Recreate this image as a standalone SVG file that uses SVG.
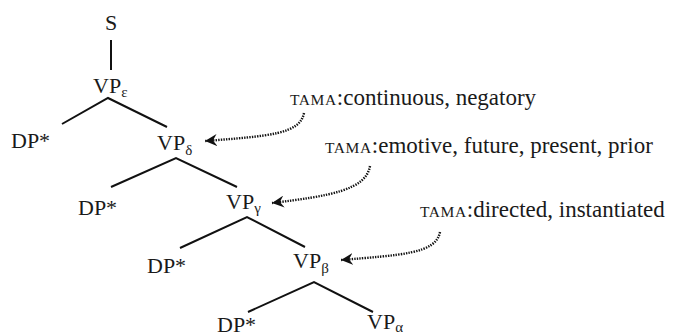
<svg xmlns="http://www.w3.org/2000/svg" width="679" height="336" viewBox="0 0 679 336" font-family="'Liberation Serif', 'Times New Roman', serif">
<style>
text{font-family:'Liberation Serif','Times New Roman',serif;fill:#1a1a1a}
.n{font-size:22px}
.sub{font-size:15px}
.t{font-size:23px}
.sc{font-size:15.5px;letter-spacing:0.6px}
.edge{stroke:#111;stroke-width:2;fill:none}
.dot{stroke:#111;stroke-width:2.4;fill:none;stroke-dasharray:1.4 1.2}
</style>
<defs>
<marker id="ah" markerUnits="userSpaceOnUse" markerWidth="14" markerHeight="12" refX="12" refY="6" orient="auto">
<path d="M0,0 L12,6 L0,12 L4,6 z" fill="#111"/>
</marker>
</defs>
<g id="S"><text class="n" font-family="Liberation Serif, serif" x="111" y="30" text-anchor="middle">S</text></g>
<g id="VPe"><text class="n" font-family="Liberation Serif, serif" x="93" y="93">VP<tspan class="sub" dy="4">ε</tspan></text></g>
<g id="DP1"><text class="n" font-family="Liberation Serif, serif" x="11" y="148">DP*</text></g>
<g id="VPd"><text class="n" font-family="Liberation Serif, serif" x="157" y="150">VP<tspan class="sub" dy="5">δ</tspan></text></g>
<g id="DP2"><text class="n" font-family="Liberation Serif, serif" x="78" y="215">DP*</text></g>
<g id="VPg"><text class="n" font-family="Liberation Serif, serif" x="226" y="209">VP<tspan class="sub" dy="4">γ</tspan></text></g>
<g id="DP3"><text class="n" font-family="Liberation Serif, serif" x="147" y="273">DP*</text></g>
<g id="VPb"><text class="n" font-family="Liberation Serif, serif" x="293" y="268">VP<tspan class="sub" dy="5">β</tspan></text></g>
<g id="DP4"><text class="n" font-family="Liberation Serif, serif" x="217" y="332">DP*</text></g>
<g id="VPa"><text class="n" font-family="Liberation Serif, serif" x="367" y="329">VP<tspan class="sub" dy="3">α</tspan></text></g>
<g id="L1"><text class="t" font-family="Liberation Serif, serif" x="290" y="105"><tspan class="sc">TAMA</tspan>:continuous, negatory</text></g>
<g id="L2"><text class="t" font-family="Liberation Serif, serif" x="325" y="153"><tspan class="sc">TAMA</tspan>:emotive, future, present, prior</text></g>
<g id="L3"><text class="t" font-family="Liberation Serif, serif" x="420" y="217"><tspan class="sc">TAMA</tspan>:directed, instantiated</text></g>
<g id="connectors">
<path class="edge" d="M111,40 V70"/>
<path class="edge" d="M62,124 L108,98 L167,127"/>
<path class="edge" d="M111,187 L176,158 L237,187"/>
<path class="edge" d="M180,248 L247,217 L305,247"/>
<path class="edge" d="M248,312 L314,282 L373,312"/>
<path class="dot" marker-end="url(#ah)" d="M304,113 C300,134 270,136 205,141"/>
<path class="dot" marker-end="url(#ah)" d="M370,166 C366,190 330,196 272,203"/>
<path class="dot" marker-end="url(#ah)" d="M440,232 C436,254 400,255 341,260"/>
</g>
</svg>
